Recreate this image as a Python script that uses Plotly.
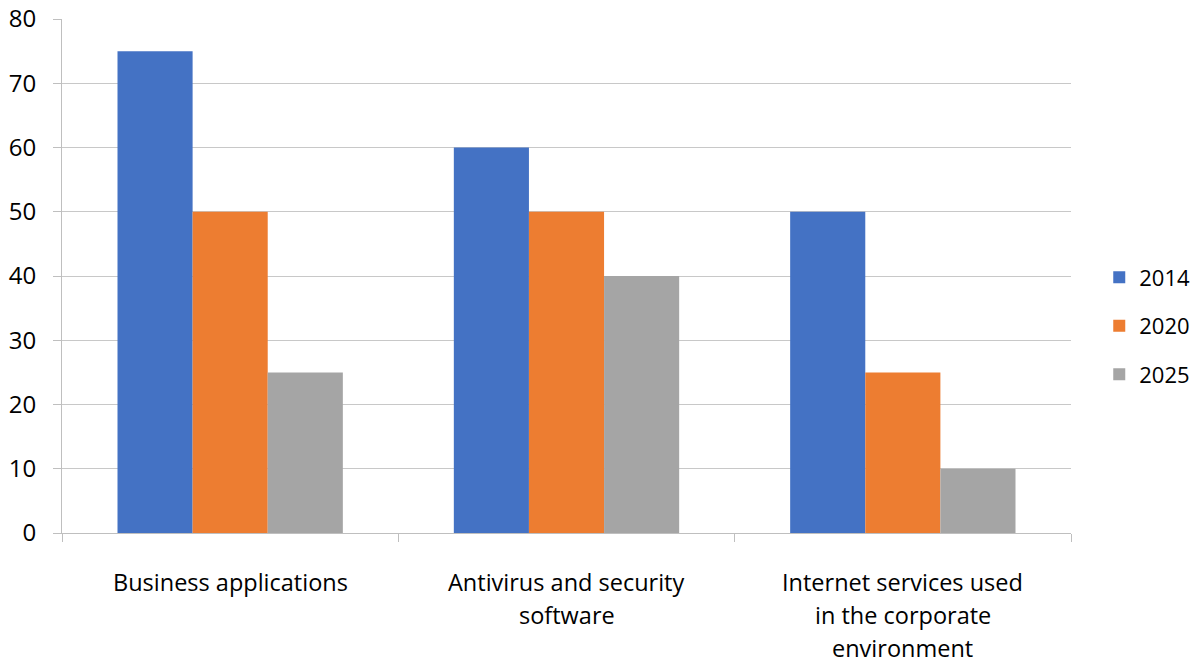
import plotly.graph_objects as go

categories = ["Business applications", "Antivirus and security software",
              "Internet services used in the corporate environment"]
category_lines = [["Business applications"],
                  ["Antivirus and security", "software"],
                  ["Internet services used", "in the corporate", "environment"]]
series_names = ["2014", "2020", "2025"]
values_2014 = [75, 60, 50]
values_2020 = [50, 50, 25]
values_2025 = [25, 40, 10]
colors = ["#4472C4", "#ED7D31", "#A5A5A5"]
y_ticks = [0, 10, 20, 30, 40, 50, 60, 70, 80]

FONT = "Open Sans"
fig = go.Figure()
for i, (name, vals) in enumerate(zip(series_names, [values_2014, values_2020, values_2025])):
    fig.add_trace(go.Bar(x=categories, y=vals, name=name, marker_color=colors[i],
                         marker_line_width=0, legendgroup=name))

annotations = []
for cat, lines in zip(categories, category_lines):
    for j, line in enumerate(lines):
        annotations.append(dict(x=cat, y=0, xref="x", yref="y", text=line, showarrow=False,
                                yshift=-49 - 33 * j, yanchor="middle", xanchor="center",
                                font=dict(family=FONT, size=23.5, color="#000000")))

fig.update_layout(
    width=1196, height=661,
    margin=dict(l=62, r=125, t=19, b=128, autoexpand=False),
    paper_bgcolor="white", plot_bgcolor="white",
    barmode="group", bargap=0.33, bargroupgap=0,
    font=dict(family=FONT, size=22, color="#000000"),
    showlegend=True,
    legend=dict(x=1.028, y=0.403, xanchor="left", yanchor="middle",
                traceorder="grouped", tracegroupgap=17,
                font=dict(family=FONT, size=22, color="#000000")),
    annotations=annotations,
)
fig.update_xaxes(showticklabels=False, showline=True, linecolor="#BFBFBF", linewidth=1,
                 ticks="outside", tickson="boundaries", ticklen=8, tickcolor="#BFBFBF",
                 showgrid=False, automargin=False)
fig.update_yaxes(range=[0, 80], tickvals=y_ticks, showline=True, linecolor="#BFBFBF",
                 linewidth=1, ticks="outside", ticklen=8, tickcolor="#BFBFBF",
                 gridcolor="#C8C8C8", gridwidth=1, zeroline=False, automargin=False,
                 ticklabelstandoff=12,
                 tickfont=dict(family=FONT, size=24, color="#000000"))
fig.write_html("out.html", config={"displayModeBar": False},
               post_script="document.body.style.margin='0';document.body.style.overflow='hidden';")
